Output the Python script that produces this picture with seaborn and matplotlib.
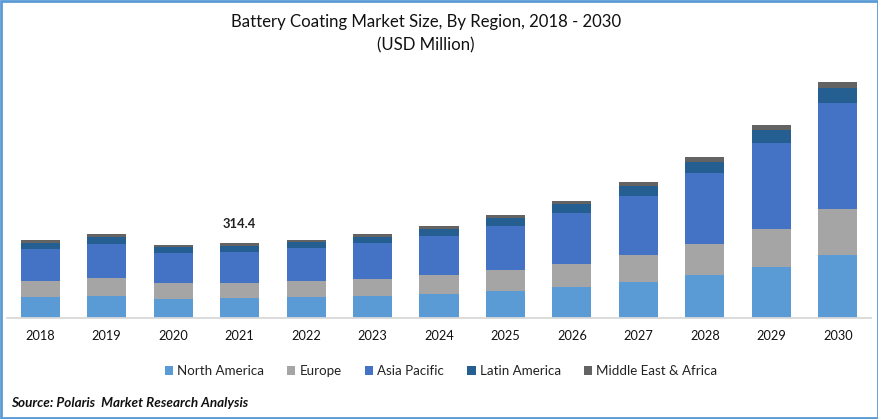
import matplotlib
matplotlib.use("Agg")
import matplotlib.pyplot as plt
import seaborn as sns
import numpy as np
from matplotlib.patches import Rectangle

years = ["2018","2019","2020","2021","2022","2023","2024","2025","2026","2027","2028","2029","2030"]
north_america = [88.0,92.2,79.6,83.7,88.0,92.2,100.6,113.2,130.0,150.9,180.3,213.8,264.1]
europe = [67.1,75.5,67.1,62.9,67.1,71.3,79.6,88.0,96.4,113.2,130.0,159.3,192.8]
asia_pacific = [134.1,142.5,125.8,130.0,138.3,150.9,163.5,184.4,213.8,247.3,297.6,360.5,444.4]
latin_america = [25.2,29.3,25.2,25.2,25.2,25.2,29.3,33.5,37.7,41.9,46.1,54.5,62.9]
mea = [12.6,12.6,8.4,12.6,8.4,12.6,12.6,12.6,12.6,16.8,21.0,21.0,25.2]
series_names = ["North America","Europe","Asia Pacific","Latin America","Middle East & Africa"]
colors = ["#5B9BD5","#A5A5A5","#4472C4","#255E91","#636363"]
annotated_value = "314.4"
annotated_year = "2021"

sns.set_theme(style="white")
plt.rcParams['font.family'] = ['Lato', 'DejaVu Sans']

W, H = 879, 419
fig = plt.figure(figsize=(W/100, H/100), dpi=100, facecolor="white")
ax = fig.add_axes([7/W, 1-318/H, (871-7)/W, (318-60)/H])

bottom = np.zeros(len(years))
for name, vals, c in zip(series_names, [north_america, europe, asia_pacific, latin_america, mea], colors):
    sns.barplot(x=years, y=vals, bottom=bottom, color=c, saturation=1, width=0.587,
                ax=ax, label=name, errorbar=None, legend=False, linewidth=0)
    bottom = bottom + np.array(vals)

ax.set_xlim(-0.5, 12.5)
ax.set_ylim(0, 258*4.192)
ax.set_yticks([])
ax.set_xlabel(""); ax.set_ylabel("")
for s in ["top","left","right"]:
    ax.spines[s].set_visible(False)
ax.spines["bottom"].set_color("#D9D9D9")
ax.spines["bottom"].set_linewidth(1.3)
ax.tick_params(axis="x", length=0, pad=8.5, labelsize=9.2, labelcolor="#111111")

idx = years.index(annotated_year)
ax.text(idx, bottom[idx] + 4.192*13, annotated_value, ha="center", va="bottom",
        fontsize=9.4, fontweight="bold", color="#222222")

fig.text(426/W, 1-22.5/H, "Battery Coating Market Size, By Region, 2018 - 2030", ha="center", va="center",
         fontsize=12.1, color="#111111")
fig.text(426/W, 1-45/H, "(USD Million)", ha="center", va="center", fontsize=12.1, color="#111111")

handles = [Rectangle((0,0),1,1,facecolor=c,linewidth=0) for c in colors]
fig.legend(handles, series_names, loc="center", bbox_to_anchor=(441/W, 1-371/H), ncol=5, frameon=False,
           fontsize=9.6, handlelength=0.62, handleheight=0.62, handletextpad=0.3, columnspacing=1.75,
           labelcolor="#222222")

fig.text(11/W, 1-403/H, "Source: Polaris  Market Research Analysis", ha="left", va="center",
         fontsize=9.75, fontweight="bold", fontstyle="italic", color="#111111")

fig.add_artist(Rectangle((1.2/W, 1.2/H), (W-2.4)/W, (H-2.4)/H, transform=fig.transFigure,
                         fill=False, edgecolor="#5B9BD5", linewidth=2.0))
fig.savefig("out.png", dpi=100, facecolor="white")
